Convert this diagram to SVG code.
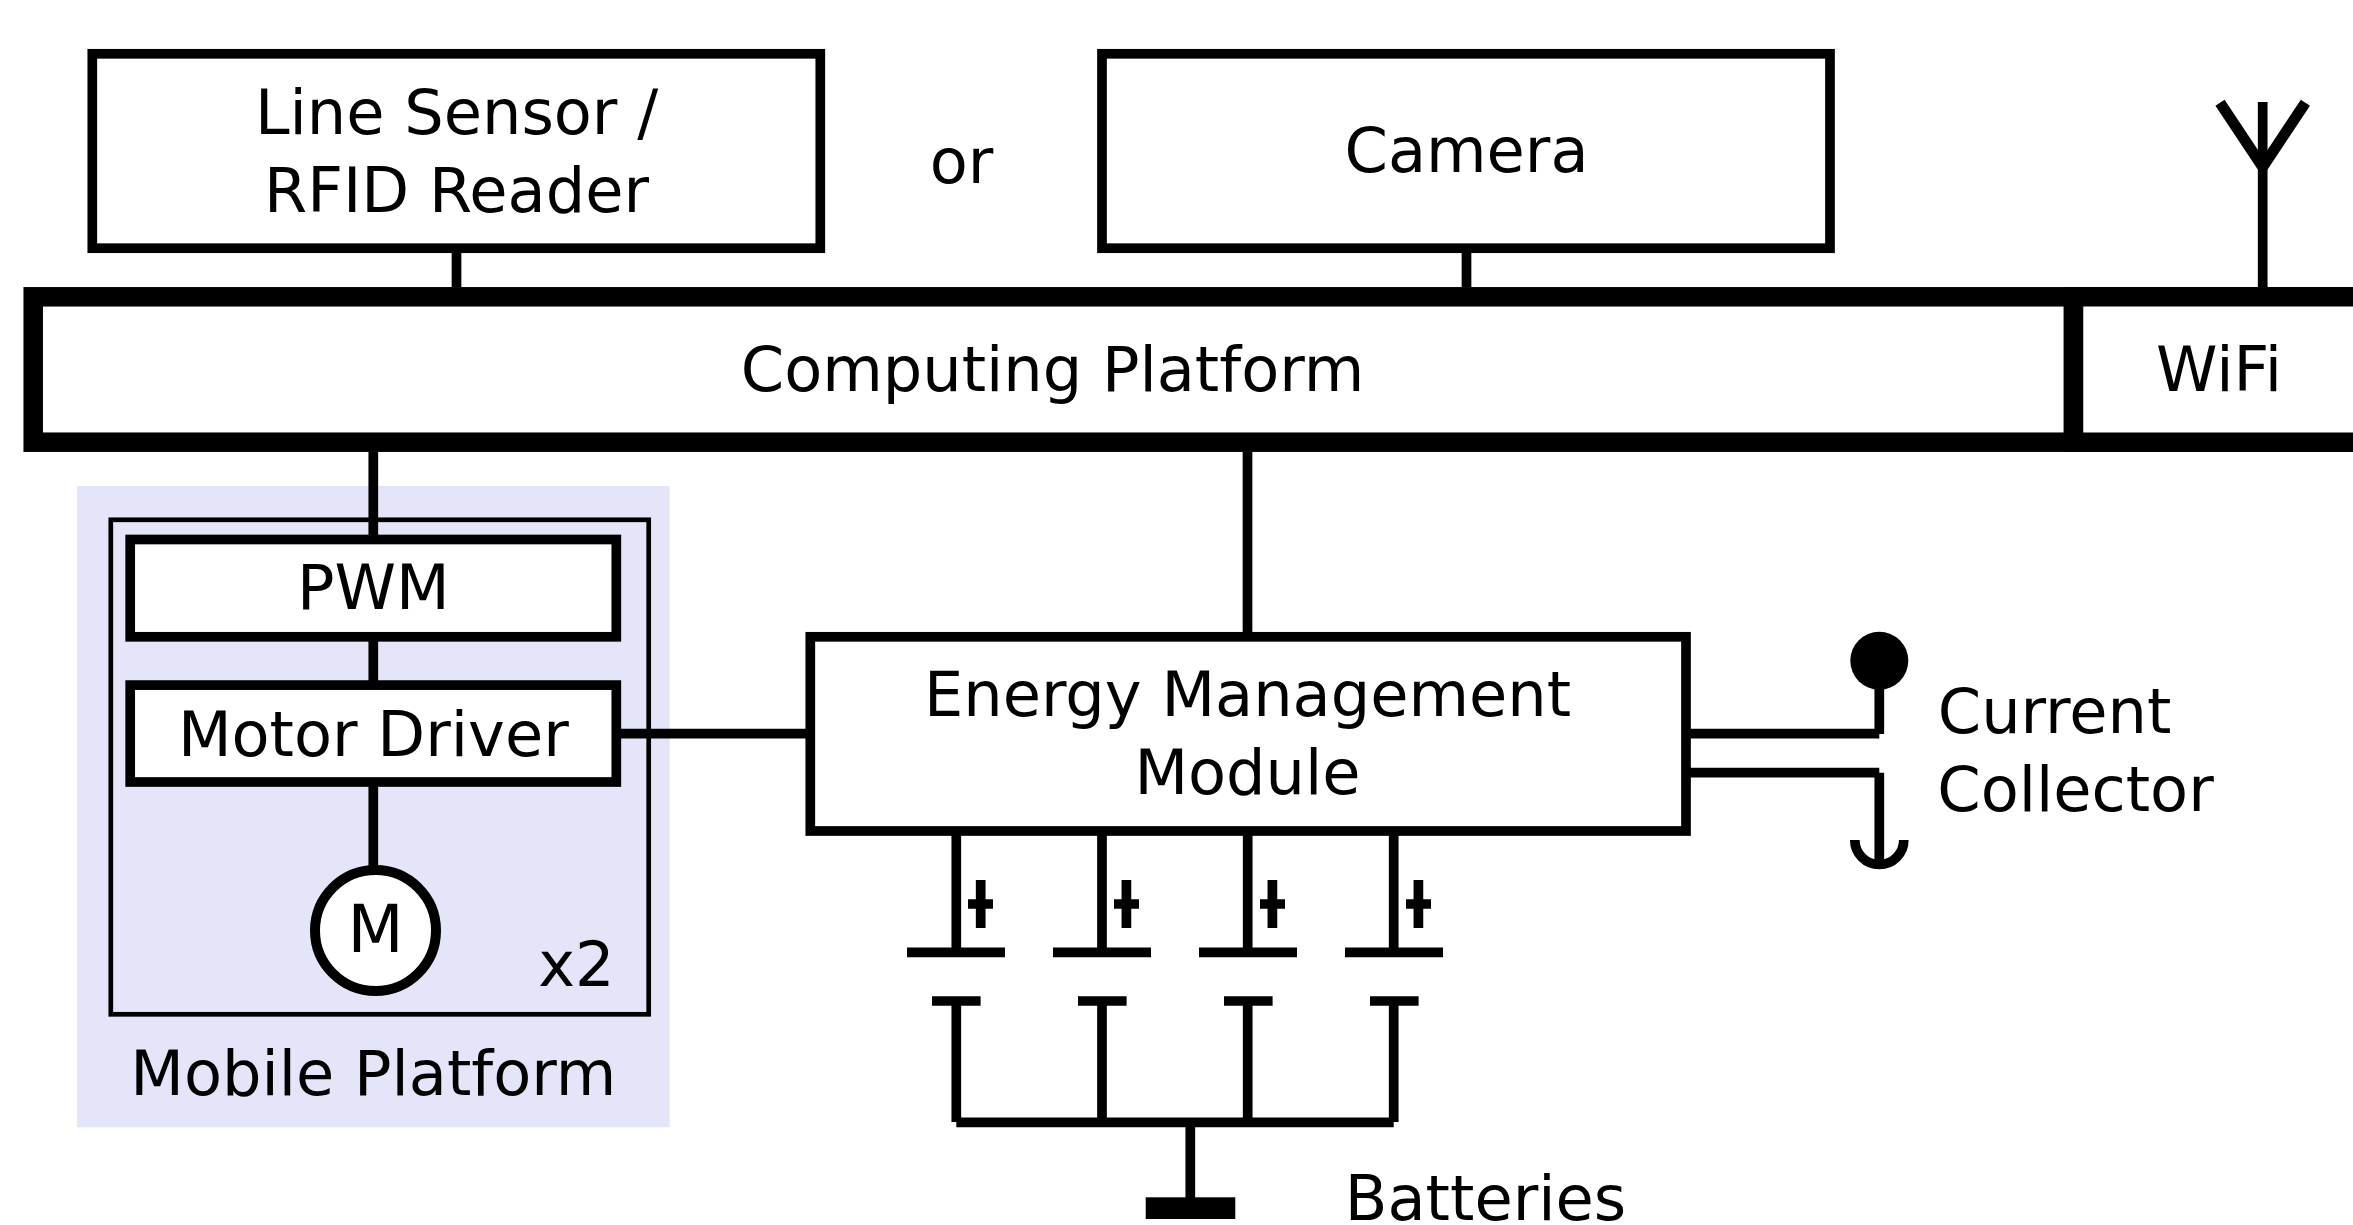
<svg xmlns="http://www.w3.org/2000/svg" width="2353" height="1225" viewBox="0 0 2353 1225">
<style>
text{font-family:"DejaVu Sans",sans-serif;font-size:62.2px;fill:#000;text-anchor:middle}
.box{fill:#fff;stroke:#000;stroke-width:9.7}
.thick{fill:#fff;stroke:#000;stroke-width:19.5}
.ln{fill:none;stroke:#000;stroke-width:9.7}
</style>
<rect width="2353" height="1225" fill="#fff"/>
<g id="mobile-platform">
<rect x="77" y="486" width="592.7" height="641.3" fill="#e5e5f9"/>
<rect x="110.8" y="519.8" width="537.9" height="494.5" fill="none" stroke="#000" stroke-width="4.7"/>
<text x="373.3" y="1095">Mobile Platform</text>
<text x="576.5" y="986">x2</text>
</g>
<g id="connectors">
<path class="ln" d="M456.5 248V287M1466.5 248V287M2262.7 287V102M373.3 452V539M373.3 636V685M373.3 782V870M1247.5 452V636M616 733.7H811"/>
<path d="M2220 102.7L2262.7 167M2305.4 102.7L2262.7 167" fill="none" stroke="#000" stroke-width="11"/>
<path class="ln" d="M1686 733.7H1879.3M1879.3 660V734M1686 772.7H1879.3M1879.3 772.7V860"/>
<path class="ln" d="M956.3 830V952M1102 830V952M1247.7 830V952M1393.7 830V952M956.3 1001V1122M1102 1001V1122M1247.7 1001V1122M1393.7 1001V1122M956.3 1122.3H1393.7M1190.3 1122V1198"/>
</g>
<g id="line-sensor"><rect class="box" x="92.3" y="53.8" width="728" height="194.4"/><text x="456.5" y="134">Line Sensor /</text><text x="456.5" y="211.7">RFID Reader</text></g>
<text id="or" x="961.5" y="183">or</text>
<g id="camera"><rect class="box" x="1102" y="53.8" width="728" height="194.4"/><text x="1466.5" y="172">Camera</text></g>
<g id="computing-platform"><rect class="thick" x="33.2" y="296.8" width="2040.3" height="145.4"/><text x="1052.5" y="391">Computing Platform</text></g>
<g id="wifi"><path class="thick" d="M2073.5 296.8H2363V442.2H2073.5Z"/><text x="2219" y="391">WiFi</text></g>
<g id="pwm"><rect class="box" x="130.2" y="539.5" width="486.1" height="97.3"/><text x="373.3" y="609">PWM</text></g>
<g id="motor-driver"><rect class="box" x="130.2" y="685.1" width="486.1" height="96.9"/><text x="373.3" y="755.7">Motor Driver</text></g>
<g id="motor"><circle cx="375.5" cy="930.5" r="60.5" fill="#fff" stroke="#000" stroke-width="10"/><text x="375.5" y="952.3" style="font-size:65px">M</text></g>
<g id="energy-management"><rect class="box" x="810.3" y="636.8" width="875.7" height="194.2"/><text x="1247.5" y="716">Energy Management</text><text x="1247.5" y="794">Module</text></g>
<g id="current-collector">
<circle cx="1879.3" cy="660.7" r="29"/>
<path class="ln" d="M1854.8 840A24.5 24.5 0 0 0 1903.8 840"/>
<text x="2054.5" y="733">Current</text><text x="2075.5" y="811">Collector</text>
</g>
<g id="batteries">
<path d="M980.7 880V928M968 904H993M1126.4 880V928M1114 904H1139M1272.4 880V928M1260 904H1285M1418.4 880V928M1406 904H1431" class="ln"/>
<path class="ln" d="M907 952.3H1005M1053 952.3H1151M1199 952.3H1297M1345 952.3H1443M932 1001H980.6M1078 1001H1126.6M1224 1001H1272.6M1370 1001H1418.6"/>
<rect x="1145.7" y="1197.3" width="89.6" height="21.7"/>
<text x="1485.5" y="1219.5">Batteries</text>
</g>
</svg>
